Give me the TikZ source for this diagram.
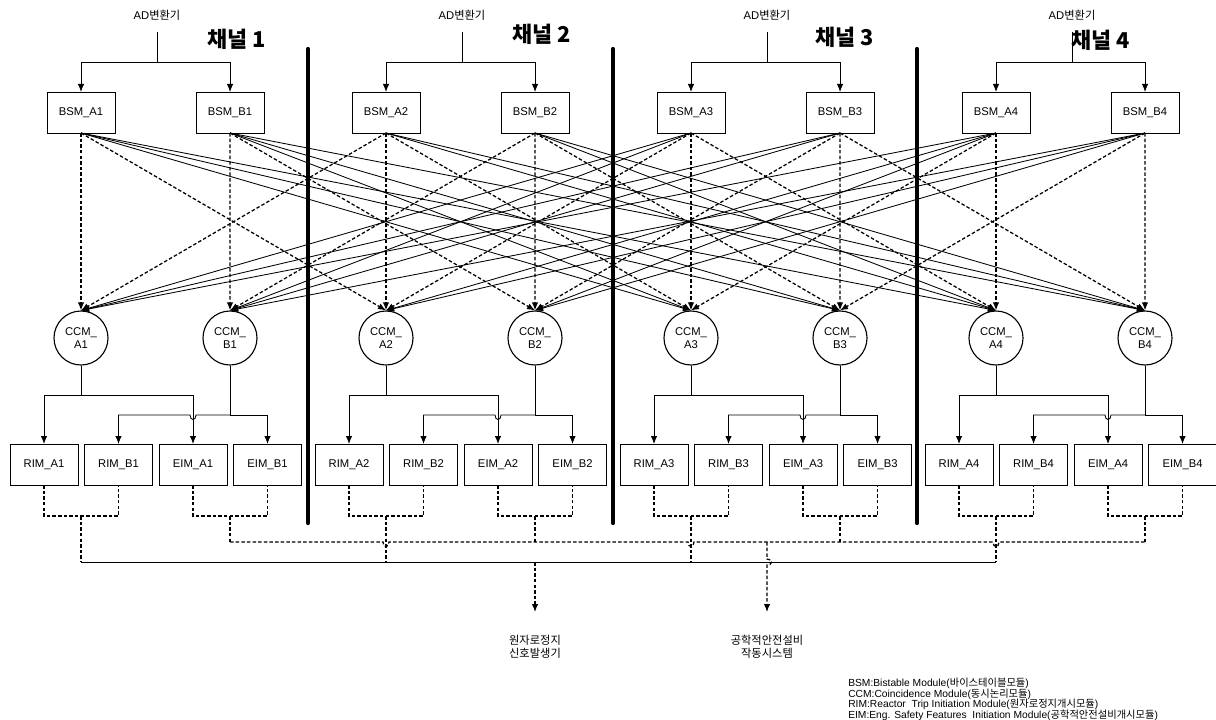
\documentclass[tikz,border=0pt]{standalone}
\usepackage{fontspec}
\setmainfont{Liberation Sans}
\newfontfamily\kr{Noto Sans CJK KR}
\usetikzlibrary{calc}
\usetikzlibrary{positioning}
\usetikzlibrary{arrows.meta}

\newcommand{\legendfont}{\fontsize{7.3}{7.4}\selectfont\lineskiplimit=-20pt\relax}

\tikzset{
    modbox/.style={rectangle, draw=black, line width=0.6pt, minimum width=1.7cm, minimum height=1.025cm, inner sep=0pt, outer sep=0pt, font=\fontsize{8}{9}\selectfont},
    ccmnode/.style={circle, draw=black, line width=0.8pt, minimum size=1.35cm, inner sep=0pt, align=center, font=\fontsize{8}{9.5}\selectfont},
    adtext/.style={inner xsep=0pt, inner ysep=8pt, font=\fontsize{8}{9}\selectfont},
    outtext/.style={inner xsep=0pt, inner ysep=16pt, align=center, font=\kr\fontsize{8}{9.3}\selectfont},
    chtitle/.style={font=\kr\bfseries\fontsize{15.5}{16}\selectfont},
    wire/.style={line width=0.6pt},
    arr/.style={wire, -{Latex[length=2mm, width=1.6mm]}},
    dwire/.style={line width=0.9pt, dash pattern=on 2.5pt off 1.5pt},
    darr/.style={dwire, -{Latex[length=2mm, width=1.6mm]}},
    chbar/.style={line width=3pt, line cap=round}
}

\begin{document}
\begin{tikzpicture}[x=0.025cm, y=-0.025cm]
    \useasboundingbox (0,0) rectangle (1216,719);

    % one channel after the other
    \foreach \i in {1,...,4} {
        \pgfmathsetmacro{\xa}{81+305*(\i-1)}
        \pgfmathsetmacro{\xb}{\xa+149}

        \node [adtext] (ad\i) at (\xa+76,15) {AD{\kr 변환기}};
        \coordinate (split\i) at (\xa+76,62);

        \node [modbox] (bsmA\i) at (\xa,112.5) {BSM\_A\i};
        \node [modbox, right=2.025cm of bsmA\i] (bsmB\i) {BSM\_B\i};
        \node [ccmnode] (ccmA\i) at (\xa,338) {CCM\_\\A\i};
        \node [ccmnode] (ccmB\i) at (\xb,338) {CCM\_\\B\i};

        \node [modbox] (rimA\i) at (\xa-37,464.5) {RIM\_A\i};
        \node [modbox] (rimB\i) at (\xa+37.5,464.5) {RIM\_B\i};
        \node [modbox] (eimA\i) at (\xa+112,464.5) {EIM\_A\i};
        \node [modbox] (eimB\i) at (\xa+186.5,464.5) {EIM\_B\i};

        \draw [wire] (ad\i.south) -- (split\i);
        \draw [arr] (split\i) -| (bsmA\i);
        \draw [arr] (split\i) -| (bsmB\i);

        % CCM to RIM / EIM
        \coordinate (ca\i) at (\xa,395);
        \coordinate (cb\i) at (\xb,415);
        \draw [wire] (ccmA\i) -- (ca\i);
        \draw [arr] (ca\i) -| (rimA\i);
        \draw [arr] (ca\i) -| (eimA\i);
        \draw [wire] (ccmB\i) -- (cb\i);
        \draw [arr] (cb\i) -| (eimB\i);
        \draw [arr] (cb\i) -- (\xa+115,415) .. controls (\xa+115,421) and (\xa+109,421) .. (\xa+109,415) -| (rimB\i);

        % outputs of the channel
        \coordinate (rm\i) at (\xa,516);
        \coordinate (rb\i) at (\xa,562);
        \coordinate (em\i) at (\xb,516);
        \coordinate (eb\i) at (\xb,542);
        \draw [dwire] (rimA\i.south) -- ++(0,31) -| (rimB\i.south);
        \draw [dwire] (eimA\i.south) -- ++(0,31) -| (eimB\i.south);
        \draw [dwire] (rm\i) -- (rb\i);
        \draw [dwire] (em\i) -- (eb\i);
    }

    \foreach \i/\hx/\hy in {1/237/39, 2/542/34, 3/845/37, 4/1101/40}
        \node [chtitle] (title\i) at (\hx,\hy) {채널 \i};

    \foreach \x in {308,613,917}
        \draw [chbar] (\x,49) -- (\x,523);

    % BSM to CCM, same side
    \foreach \s in {A,B} {
        \foreach \i in {1,...,4} {
            \foreach \j in {1,...,4} {
                \pgfmathtruncatemacro{\d}{abs(\i-\j)}
                \ifnum\d<2
                    \draw [darr] (bsm\s\j.south) -- (ccm\s\i.north);
                \else
                    \draw [arr] (bsm\s\j.south) -- (ccm\s\i.north);
                \fi
            }
        }
    }
    % BSM to CCM, other side
    \foreach \s/\o in {A/B, B/A}
        \foreach \i/\k in {1/3, 2/4, 3/1, 4/2}
            \draw [arr] (bsm\o\k.south) -- (ccm\s\i.north);

    % trip buses
    \draw [wire] (rb1) -- (rb4);
    \draw [dwire] (eb1) -- (383,542) .. controls (383,548) and (389,548) .. (389,542)
        -- (688,542) .. controls (688,548) and (694,548) .. (694,542)
        -- (993,542) .. controls (993,548) and (999,548) .. (999,542) -- (eb4);

    \coordinate (rimtap) at (535,562);
    \coordinate (eimtap) at (767,542);
    \node [outtext] (rimout) at (535,646.5) {원자로정지\\신호발생기};
    \node [outtext] (eimout) at (767,646.5) {공학적안전설비\\작동시스템};
    \draw [darr] (rimtap) -- (rimout);
    \draw [darr] (eimtap) -- (767,559) .. controls (773,559) and (773,565) .. (767,565) -- (eimout);

    \node [anchor=north west, inner sep=0pt, align=left, font=\legendfont] (legend) at (848,678) {%
        BSM:Bistable Module({\kr 바이스테이블모듈})\\
        CCM:Coincidence Module({\kr 동시논리모듈})\\
        RIM:Reactor~ Trip Initiation Module({\kr 원자로정지개시모듈})\\
        EIM:Eng. Safety Features~ Initiation Module({\kr 공학적안전설비개시모듈})};
\end{tikzpicture}
\end{document}
